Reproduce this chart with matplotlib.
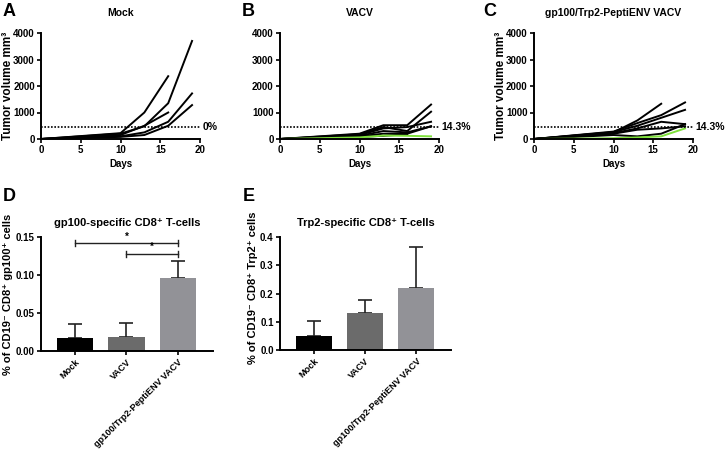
import numpy as np
import matplotlib
matplotlib.use("Agg")
import matplotlib.pyplot as plt

plt.rcParams['font.family'] = ['Liberation Sans', 'DejaVu Sans']
plt.rcParams['font.weight'] = 'bold'

# Data
days = [0, 10, 13, 16, 19]
nan = np.nan
mock_mice = [
    [0, 220, 1000, 2370, nan],
    [0, 200, 480, 1350, 3700],
    [0, 150, 500, 1000, nan],
    [0, 100, 250, 650, 1720],
    [0, 80, 150, 500, 1280],
]
vacv_mice = [
    [0, 200, 520, 520, 1300],
    [0, 180, 450, 300, 1030],
    [0, 150, 400, 450, 650],
    [0, 120, 300, 250, 480],
    [0, 100, 200, 200, 480],
    [0, 80, 120, 180, nan],
]
vacv_green = [0, 60, 130, 120, 100]
pepti_mice = [
    [0, 250, 700, 1330, nan],
    [0, 280, 600, 900, 1380],
    [0, 260, 500, 800, 1100],
    [0, 220, 400, 650, 560],
    [0, 200, 350, 400, 480],
    [0, 150, 100, 200, 560],
]
pepti_green = [0, 30, 60, 100, 400]
threshold = 460
line_titles = ["Mock", "VACV", "gp100/Trp2-PeptiENV VACV"]
line_pcts = ["0%", "14.3%", "14.3%"]

groups = ["Mock", "VACV", "gp100/Trp2-PeptiENV VACV"]
gp100_mean = [0.017, 0.018, 0.096]
gp100_sem = [0.018, 0.019, 0.022]
trp2_mean = [0.050, 0.130, 0.220]
trp2_sem = [0.053, 0.047, 0.145]
bar_colors = ["#000000", "#6b6b6b", "#929297"]

W, H = 726, 451
fig = plt.figure(figsize=(W / 100, H / 100), dpi=100)


def ax_px(left, top, right, bottom):
    return fig.add_axes([left / W, 1 - bottom / H, (right - left) / W, (bottom - top) / H])


def style(ax):
    for s in ['top', 'right']:
        ax.spines[s].set_visible(False)
    for s in ['left', 'bottom']:
        ax.spines[s].set_linewidth(1.4)
    ax.tick_params(width=1.2, length=3, labelsize=7, pad=1.5)
    for t in ax.get_xticklabels() + ax.get_yticklabels():
        t.set_fontweight('bold')


# Tumor growth panels
line_sets = [(mock_mice, None), (vacv_mice, vacv_green), (pepti_mice, pepti_green)]
lefts = [41, 280, 534]
for i, (mice, green) in enumerate(line_sets):
    ax = ax_px(lefts[i], 33, lefts[i] + 159, 139)
    for m in mice:
        ax.plot(days, m, color='black', lw=1.4, solid_joinstyle='miter')
    if green is not None:
        ax.plot(days, green, color='#7ee03a', lw=1.4)
    ax.plot([0, 20], [threshold, threshold], color='black', ls=(0, (1, 1)), lw=1.2)
    ax.text(20.3, threshold, line_pcts[i], fontsize=7.5, fontweight='bold', va='center')
    ax.set_xlim(0, 20)
    ax.set_ylim(0, 4000)
    ax.set_xticks([0, 5, 10, 15, 20])
    ax.set_yticks([0, 1000, 2000, 3000, 4000])
    ax.set_xlabel("Days", fontsize=7, fontweight='bold', labelpad=3)
    if i != 1:
        ax.set_ylabel("Tumor volume mm³", fontsize=8.5, fontweight='bold')
        ax.yaxis.set_label_coords(-0.17, 0.5)
    ax.set_title(line_titles[i], fontsize=7.5, fontweight='bold', pad=12)
    style(ax)

# Bar panels
x = np.arange(len(groups))
bar_panels = [
    (41, 237, 213, 351, gp100_mean, gp100_sem, 0.15, [0.0, 0.05, 0.10, 0.15],
     "gp100-specific CD8⁺ T-cells", "% of CD19⁻ CD8⁺ gp100⁺ cells", -0.165, 0.5),
    (280, 237, 451, 350, trp2_mean, trp2_sem, 0.4, [0.0, 0.1, 0.2, 0.3, 0.4],
     "Trp2-specific CD8⁺ T-cells", "% of CD19⁻ CD8⁺ Trp2⁺ cells", -0.13, 0.55),
]
bar_axes = []
for (l, t, r, b, mean, sem, ymax, yt, title, ylab, lx, ly) in bar_panels:
    ax = ax_px(l, t, r, b)
    ax.bar(x, mean, width=0.7, color=bar_colors, zorder=2)
    ax.errorbar(x, mean, yerr=[np.zeros(3), sem], fmt='none', ecolor='#222222',
                elinewidth=1.2, capsize=5, capthick=1.2, zorder=1)
    ax.set_xlim(-0.66, 2.68)
    ax.set_ylim(0, ymax)
    ax.set_yticks(yt)
    ax.set_yticklabels(["%.2f" % v if ymax < 0.2 else "%.1f" % v for v in yt])
    ax.set_xticks(x)
    ax.set_xticklabels(groups, rotation=45, ha='right', rotation_mode='anchor',
                       fontsize=6.6, fontweight='bold')
    ax.set_ylabel(ylab, fontsize=8, fontweight='bold')
    ax.yaxis.set_label_coords(lx, ly)
    ax.set_title(title, fontsize=8, fontweight='bold', pad=8)
    for s in ['top', 'right']:
        ax.spines[s].set_visible(False)
    for s in ['left', 'bottom']:
        ax.spines[s].set_linewidth(1.4)
    ax.tick_params(width=1.2, length=3, pad=1.5)
    ax.tick_params(axis='y', labelsize=7)
    for tl in ax.get_yticklabels():
        tl.set_fontweight('bold')
    bar_axes.append(ax)

# significance brackets on panel D
axd = bar_axes[0]
for x0, yb in [(0, 0.142), (1, 0.128)]:
    axd.plot([x0, 2], [yb, yb], color='#222222', lw=1.0)
    axd.plot([x0, x0], [yb - 0.004, yb + 0.004], color='#222222', lw=1.0)
    axd.plot([2, 2], [yb - 0.004, yb + 0.004], color='#222222', lw=1.0)
    axd.text((x0 + 2) / 2, yb + 0.002, "*", ha='center', va='bottom', fontsize=7)
for ln in axd.lines:
    ln.set_clip_on(False)

# panel letters
for lab, px, py in [("A", 3, 12), ("B", 242, 12), ("C", 483, 12), ("D", 3, 197), ("E", 243, 197)]:
    fig.text(px / W, 1 - py / H, lab, fontsize=13, fontweight='bold', va='center')

fig.savefig("out.png", dpi=100)
